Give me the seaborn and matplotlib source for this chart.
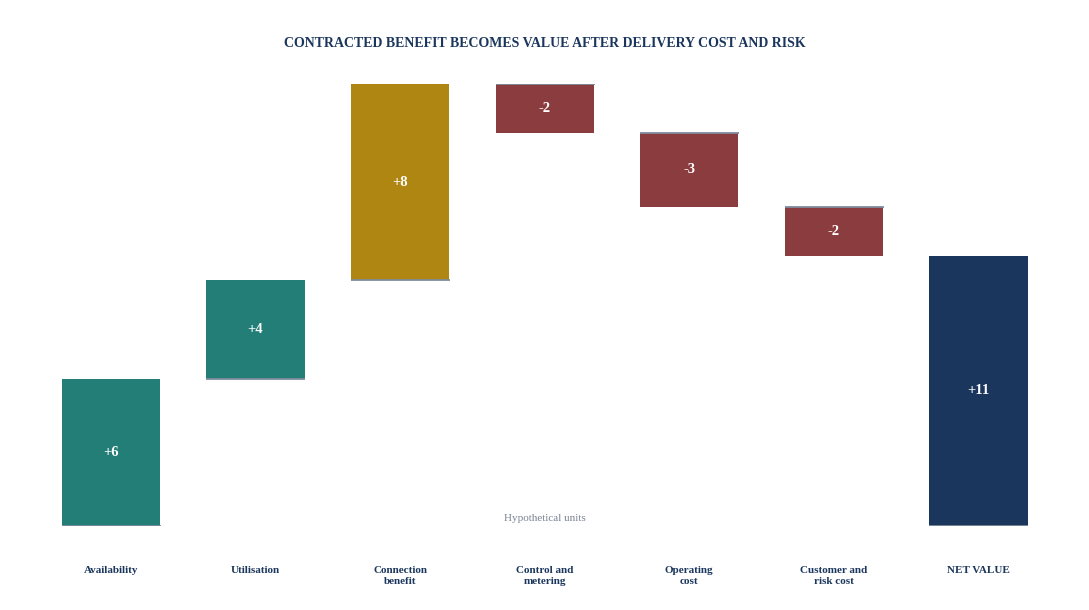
import numpy as np
import pandas as pd
import matplotlib
matplotlib.use("Agg")
import matplotlib.pyplot as plt
import seaborn as sns

# data
steps = ["Availability", "Utilisation", "Connection\nbenefit", "Control and\nmetering",
         "Operating\ncost", "Customer and\nrisk cost", "NET VALUE"]
changes = [6, 4, 8, -2, -3, -2]
colors = ["#247e78", "#247e78", "#b08612", "#8b3c3e", "#8b3c3e", "#8b3c3e", "#1b365d"]

navy = "#1b365d"
line_grey = "#7f8c9d"

# running totals
net = sum(changes)
starts = list(np.cumsum([0] + changes[:-1])) + [0]
deltas = changes + [net]
lows = [min(s, s + d) for s, d in zip(starts, deltas)]
heights = [abs(d) for d in deltas]
labels = [f"+{d}" if d > 0 else f"{d}" for d in deltas]

df = pd.DataFrame({"step": steps, "height": heights})

sns.set_theme(style="white")
plt.rcParams["font.family"] = ["Liberation Serif", "DejaVu Serif"]

fig = plt.figure(figsize=(10.89, 6.10), dpi=100)
ax = fig.add_axes([0.0355, 0.1377, 0.9293, 0.7246])

sns.barplot(data=df, x="step", y="height", hue="step", palette=colors,
            width=0.68, legend=False, ax=ax, saturation=1)

# move bars to float at their running level
for patch, low in zip(ax.patches, lows):
    patch.set_y(low)
    patch.set_linewidth(0)

for i, (s, low, h, lab) in enumerate(zip(starts, lows, heights, labels)):
    ax.hlines(s, i - 0.34, i + 0.345, color=line_grey, lw=1.3, zorder=3)
    ax.text(i, low + h / 2, lab, ha="center", va="center", color="white",
            fontsize=10.5, fontweight="bold")

ax.set_xlim(-0.5, len(steps) - 0.5)
ax.set_ylim(0, 18)
ax.set_xlabel("")
ax.set_ylabel("")
ax.set_yticks([])
ax.tick_params(axis="x", length=0, pad=29)
for t in ax.get_xticklabels():
    t.set_fontsize(8)
    t.set_fontweight("bold")
    t.set_color(navy)
    t.set_linespacing(1.25)
    t.set_verticalalignment("top")
sns.despine(ax=ax, left=True, bottom=True)

ax.text(0.5, 0.006, "Hypothetical units", transform=ax.transAxes, ha="center",
        va="bottom", fontsize=8, color="#7a8494")

fig.text(0.5, 0.929, "CONTRACTED BENEFIT BECOMES VALUE AFTER DELIVERY COST AND RISK",
         ha="center", va="center", fontsize=10, fontweight="bold", color=navy)

fig.savefig("out.png", dpi=100)
